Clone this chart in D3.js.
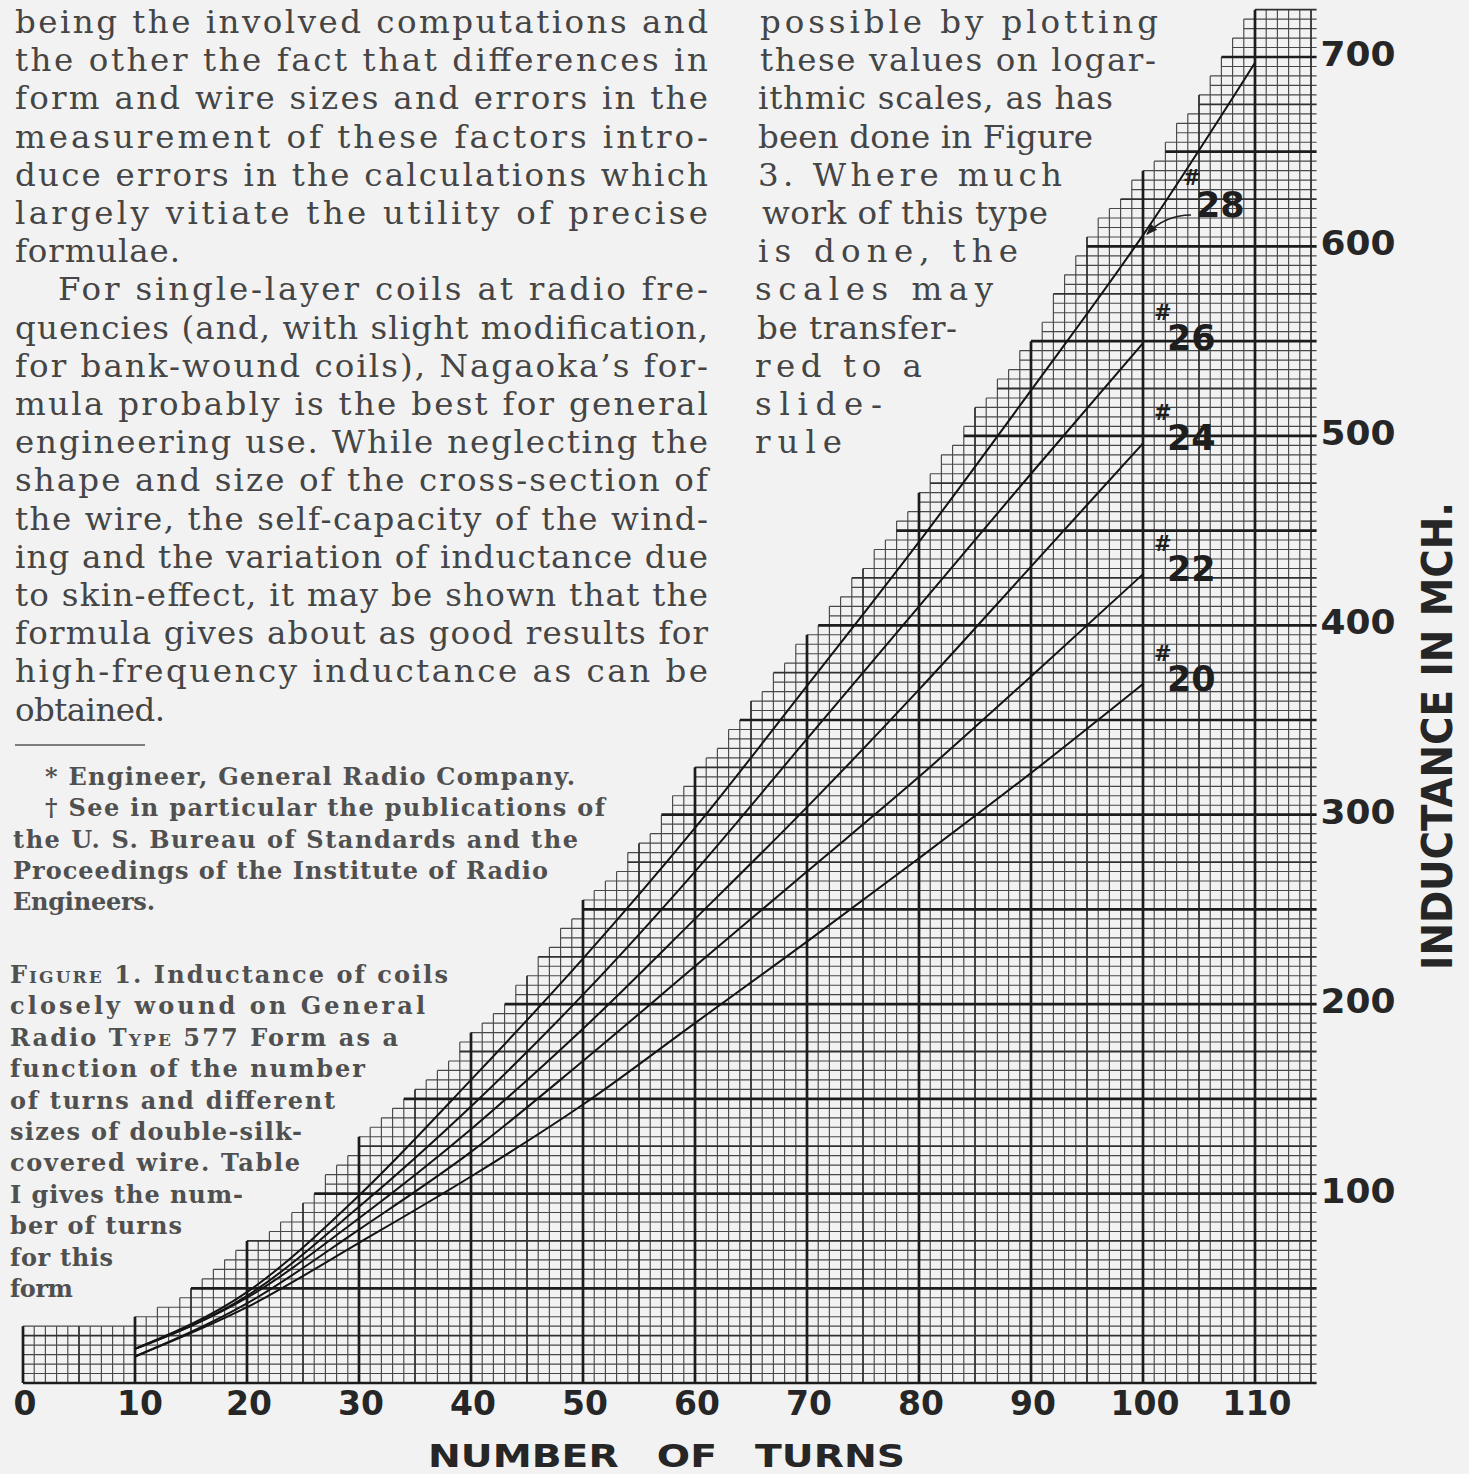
<!DOCTYPE html>
<html lang="en">
<head>
    <meta charset="UTF-8">
    <title>Inductance of coils on Type 577 form</title>
    <style>
        body { margin: 0; background: #f2f2f2; }
        svg { display: block; }
        .body-text { font-family: "DejaVu Serif", serif; font-size: 32.5px; fill: #454545; }
        .note-text { font-family: "DejaVu Serif", serif; font-size: 24px; font-weight: bold; fill: #505050; }
        .sc { font-variant: small-caps; }
        .tick-label { font-family: "DejaVu Sans", sans-serif; font-weight: bold; font-size: 33px; fill: #262626; }
        .axis-title { font-family: "DejaVu Sans", sans-serif; font-weight: bold; font-size: 32px; fill: #262626; }
        .wire-label { font-family: "DejaVu Sans", sans-serif; font-weight: bold; font-size: 35px; fill: #1e1e1e; }
        .wire-hash { font-family: "DejaVu Sans", sans-serif; font-weight: bold; font-size: 21px; fill: #1e1e1e; }
    </style>
</head>
<body>
<svg width="1469" height="1474"></svg>
<script src="https://d3js.org/d3.v7.min.js"></script>
<script>

    // Number of turns where the curves were read
    const turns = [10, 20, 30, 40, 50, 60, 70, 80, 90, 100];
    const turns28 = [10, 20, 30, 40, 50, 60, 70, 80, 90, 100, 110];

    // Inductance in microhenries
    const wire28 = [18, 48, 99, 160, 224, 293, 368, 444, 524, 606, 697];
    const wire26 = [18, 46, 93, 146, 205, 270, 340, 410, 480, 549];
    const wire24 = [18, 45, 87, 134, 187, 245, 304, 366, 431, 496];
    const wire22 = [14, 42, 81, 122, 170, 220, 270, 320, 373, 427];
    const wire20 = [14, 40, 74, 109, 147, 190, 233, 277, 322, 369];

    const wireNames = ['28', '26', '24', '22', '20'];

    const xTicks = [0, 10, 20, 30, 40, 50, 60, 70, 80, 90, 100, 110];
    const yTicks = [100, 200, 300, 400, 500, 600, 700];

    // Upper-left edge of the printed graph paper (turns, mch)
    const gridEdge = [
        [0, 30], [10, 30], [10.3, 32], [13.3, 38], [16.3, 53], [19.3, 66], [23.2, 80],
        [26.1, 97], [27.9, 110], [32.8, 139], [34.9, 149], [37.8, 166], [41.4, 186],
        [44.1, 202], [48.3, 235], [50.4, 250], [55.5, 282], [60.3, 320], [61.5, 326],
        [68.1, 376], [71.7, 400], [75, 424], [78.4, 450], [81.6, 477], [83.6, 495],
        [90.8, 552], [95.3, 603], [96.9, 614], [100.9, 639], [104.9, 673], [107.6, 700],
        [109.4, 719], [110.8, 726], [115.5, 726]
    ];

    // Text of the page around the chart
    const leftColumn = [
        'being the involved computations and',
        'the other the fact that differences in',
        'form and wire sizes and errors in the',
        'measurement of these factors intro-',
        'duce errors in the calculations which',
        'largely vitiate the utility of precise',
        'formulae.',
        'For single-layer coils at radio fre-',
        'quencies (and, with slight modification,',
        'for bank-wound coils), Nagaoka\u2019s for-',
        'mula probably is the best for general',
        'engineering use. While neglecting the',
        'shape and size of the cross-section of',
        'the wire, the self-capacity of the wind-',
        'ing and the variation of inductance due',
        'to skin-effect, it may be shown that the',
        'formula gives about as good results for',
        'high-frequency inductance as can be',
        'obtained.'
    ];
    const rightColumn = [
        'possible by plotting',
        'these values on logar-',
        'ithmic scales, as has',
        'been done in Figure',
        '3. Where much',
        'work of this type',
        'is done, the',
        'scales may',
        'be transfer-',
        'red to a',
        'slide-',
        'rule'
    ];
    const footnotes = [
        '* Engineer, General Radio Company.',
        '\u2020 See in particular the publications of',
        'the U. S. Bureau of Standards and the',
        'Proceedings of the Institute of Radio',
        'Engineers.'
    ];
    // ^...^ marks small capitals
    const caption = [
        '^Figure^ 1. Inductance of coils',
        'closely wound on General',
        'Radio ^Type^ 577 Form as a',
        'function of the number',
        'of turns and different',
        'sizes of double-silk-',
        'covered wire. Table',
        'I gives the num-',
        'ber of turns',
        'for this',
        'form'
    ];

    // Layout of the text lines (left and right x of each line)
    const leftStart = [15, 15, 15, 15, 15, 15, 15, 58, 15, 15, 15, 15, 15, 15, 15, 15, 15, 15, 15];
    const leftEnd = [708, 708, 708, 708, 708, 708, 180, 708, 708, 708, 708, 708, 708, 708, 708, 708, 708, 708, 165];
    const rightStart = [760, 760, 758, 758, 758, 762, 758, 755, 757, 755, 755, 755];
    const rightEnd = [1158, 1156, 1113, 1093, 1062, 1048, 1018, 993, 957, 922, 882, 842];
    const noteStart = [45, 45, 13, 13, 13];
    const noteEnd = [575, 605, 578, 548, 155];
    const captionEnd = [448, 425, 398, 365, 335, 302, 300, 243, 182, 113, 73];

    const svg = d3.select('svg');
    const width = +svg.attr('width');
    const height = +svg.attr('height');

    svg.append('rect')
        .attr('width', width)
        .attr('height', height)
        .attr('fill', '#f2f2f2');

    const x = d3.scaleLinear().domain([0, 110]).range([23, 1255]);
    const y = d3.scaleLinear().domain([0, 700]).range([1383, 57]);

    const xMax = 115.5;
    const vMax = 725;

    function edgeAt(t) {
        for (let i = 1; i < gridEdge.length; i++) {
            const a = gridEdge[i - 1];
            const b = gridEdge[i];
            if (t <= b[0]) {
                return a[1] + (b[1] - a[1]) * (t - a[0]) / ((b[0] - a[0]) || 1);
            }
        }
        return gridEdge[gridEdge.length - 1][1];
    }

    // Each one-turn column of the paper stops at a 5 mch row
    const columns = d3.range(0, 116);
    const colTop = columns.map(function (i) {
        const v = edgeAt(Math.min(i + 0.5, xMax));
        return Math.min(vMax, Math.ceil(v / 5 - 1e-6) * 5);
    });

    const vLines = d3.range(0, 116).map(function (t) {
        const left = t > 0 ? colTop[t - 1] : 0;
        return { t: t, top: Math.max(left, colTop[t]), w: t % 10 === 0 ? 3 : (t % 5 === 0 ? 2 : 1) };
    });

    const hLines = d3.range(0, vMax + 1, 5).map(function (v) {
        const start = columns.find(function (i) { return colTop[i] >= v; });
        return { v: v, start: start, w: v % 50 === 0 ? 3 : (v % 25 === 0 ? 2 : 1) };
    });

    const weight = { 1: 1.15, 2: 1.8, 3: 2.7 };
    const shade = { 1: '#484848', 2: '#303030', 3: '#1c1c1c' };

    const gridG = svg.append('g');

    [1, 2, 3].forEach(function (w) {
        gridG.append('g')
            .selectAll('line')
            .data(vLines.filter(function (d) { return d.w === w; }))
            .join('line')
            .attr('x1', function (d) { return x(d.t); })
            .attr('x2', function (d) { return x(d.t); })
            .attr('y1', y(0))
            .attr('y2', function (d) { return y(d.top); })
            .attr('stroke', shade[w])
            .attr('stroke-width', weight[w]);

        gridG.append('g')
            .selectAll('line')
            .data(hLines.filter(function (d) { return d.w === w; }))
            .join('line')
            .attr('x1', function (d) { return x(d.start); })
            .attr('x2', x(xMax))
            .attr('y1', function (d) { return y(d.v); })
            .attr('y2', function (d) { return y(d.v); })
            .attr('stroke', shade[w])
            .attr('stroke-width', weight[w]);
    });

    // Curves
    const series = [
        { name: '28', points: d3.zip(turns28, wire28) },
        { name: '26', points: d3.zip(turns, wire26) },
        { name: '24', points: d3.zip(turns, wire24) },
        { name: '22', points: d3.zip(turns, wire22) },
        { name: '20', points: d3.zip(turns, wire20) }
    ];

    const line = d3.line()
        .x(function (d) { return x(d[0]); })
        .y(function (d) { return y(d[1]); })
        .curve(d3.curveMonotoneX);

    svg.append('g')
        .selectAll('path')
        .data(series)
        .join('path')
        .attr('fill', 'none')
        .attr('stroke', '#141414')
        .attr('stroke-width', 2)
        .attr('d', function (d) { return line(d.points); });

    // Wire size labels at the 100-turn end of each curve
    const labelG = svg.append('g');
    series.slice(1).forEach(function (s) {
        const end = s.points[s.points.length - 1];
        const bx = x(end[0]) + 24;
        const by = y(end[1]) + 7;
        labelG.append('text').attr('class', 'wire-hash')
            .attr('x', bx - 13).attr('y', by - 30).text('#');
        labelG.append('text').attr('class', 'wire-label')
            .attr('x', bx).attr('y', by).text(s.name);
    });

    // #28 sits above the curve with a small arrow
    const p28 = [x(100), y(wire28[9])];
    labelG.append('text').attr('class', 'wire-hash')
        .attr('x', p28[0] + 40).attr('y', p28[1] - 50).text('#');
    labelG.append('text').attr('class', 'wire-label')
        .attr('x', p28[0] + 53).attr('y', p28[1] - 18).text(wireNames[0]);

    svg.append('defs').append('marker')
        .attr('id', 'head')
        .attr('viewBox', '0 0 10 10')
        .attr('refX', 9).attr('refY', 5)
        .attr('markerWidth', 7).attr('markerHeight', 7)
        .attr('orient', 'auto')
        .append('path')
        .attr('d', 'M0,1 L10,5 L0,9 Z')
        .attr('fill', '#1e1e1e');

    labelG.append('path')
        .attr('fill', 'none')
        .attr('stroke', '#1e1e1e')
        .attr('stroke-width', 1.6)
        .attr('marker-end', 'url(#head)')
        .attr('d', 'M' + (p28[0] + 48) + ',' + (p28[1] - 20) +
            ' Q' + (p28[0] + 22) + ',' + (p28[1] - 20) + ' ' + (p28[0] + 4) + ',' + (p28[1] - 1));

    // Axis numbers
    svg.append('g')
        .selectAll('text')
        .data(xTicks)
        .join('text')
        .attr('class', 'tick-label')
        .attr('x', function (d) { return x(d) + (d === 10 ? 5 : 2); })
        .attr('y', 1415)
        .attr('text-anchor', 'middle')
        .text(function (d) { return d; });

    svg.append('g')
        .selectAll('text')
        .data(yTicks)
        .join('text')
        .attr('class', 'tick-label')
        .attr('x', x(xMax) + 4)
        .attr('y', function (d) { return y(d) + 9; })
        .attr('textLength', 75)
        .attr('lengthAdjust', 'spacingAndGlyphs')
        .text(function (d) { return d; });

    svg.append('text')
        .attr('class', 'axis-title')
        .attr('x', 428)
        .attr('y', 1467)
        .attr('textLength', 477)
        .attr('lengthAdjust', 'spacingAndGlyphs')
        .style('word-spacing', '20px')
        .text('NUMBER OF TURNS');

    svg.append('text')
        .attr('class', 'axis-title')
        .attr('transform', 'translate(1452 970) rotate(-90)')
        .style('font-size', '42px')
        .attr('textLength', 468)
        .attr('lengthAdjust', 'spacingAndGlyphs')
        .text('INDUCTANCE IN MCH.');

    // Page text
    function textBlock(lines, starts, ends, base, step, cls) {
        svg.append('g')
            .selectAll('text')
            .data(lines)
            .join('text')
            .attr('class', cls)
            .attr('x', function (d, i) { return starts[i]; })
            .attr('y', function (d, i) { return base + i * step; })
            .attr('textLength', function (d, i) { return ends[i] - starts[i]; })
            .attr('lengthAdjust', 'spacing')
            .each(function (d) {
                const el = d3.select(this);
                d.split('^').forEach(function (part, k) {
                    if (!part) return;
                    el.append('tspan').attr('class', k % 2 ? 'sc' : null).text(part);
                });
            });
    }

    textBlock(leftColumn, leftStart, leftEnd, 33, 38.2, 'body-text');
    textBlock(rightColumn, rightStart, rightEnd, 33, 38.2, 'body-text');
    textBlock(footnotes, noteStart, noteEnd, 785, 31.3, 'note-text');
    textBlock(caption, caption.map(function () { return 10; }), captionEnd, 983, 31.4, 'note-text');

    svg.append('line')
        .attr('x1', 15).attr('x2', 145)
        .attr('y1', 745).attr('y2', 745)
        .attr('stroke', '#555')
        .attr('stroke-width', 1.5);

</script>
</body>
</html>
